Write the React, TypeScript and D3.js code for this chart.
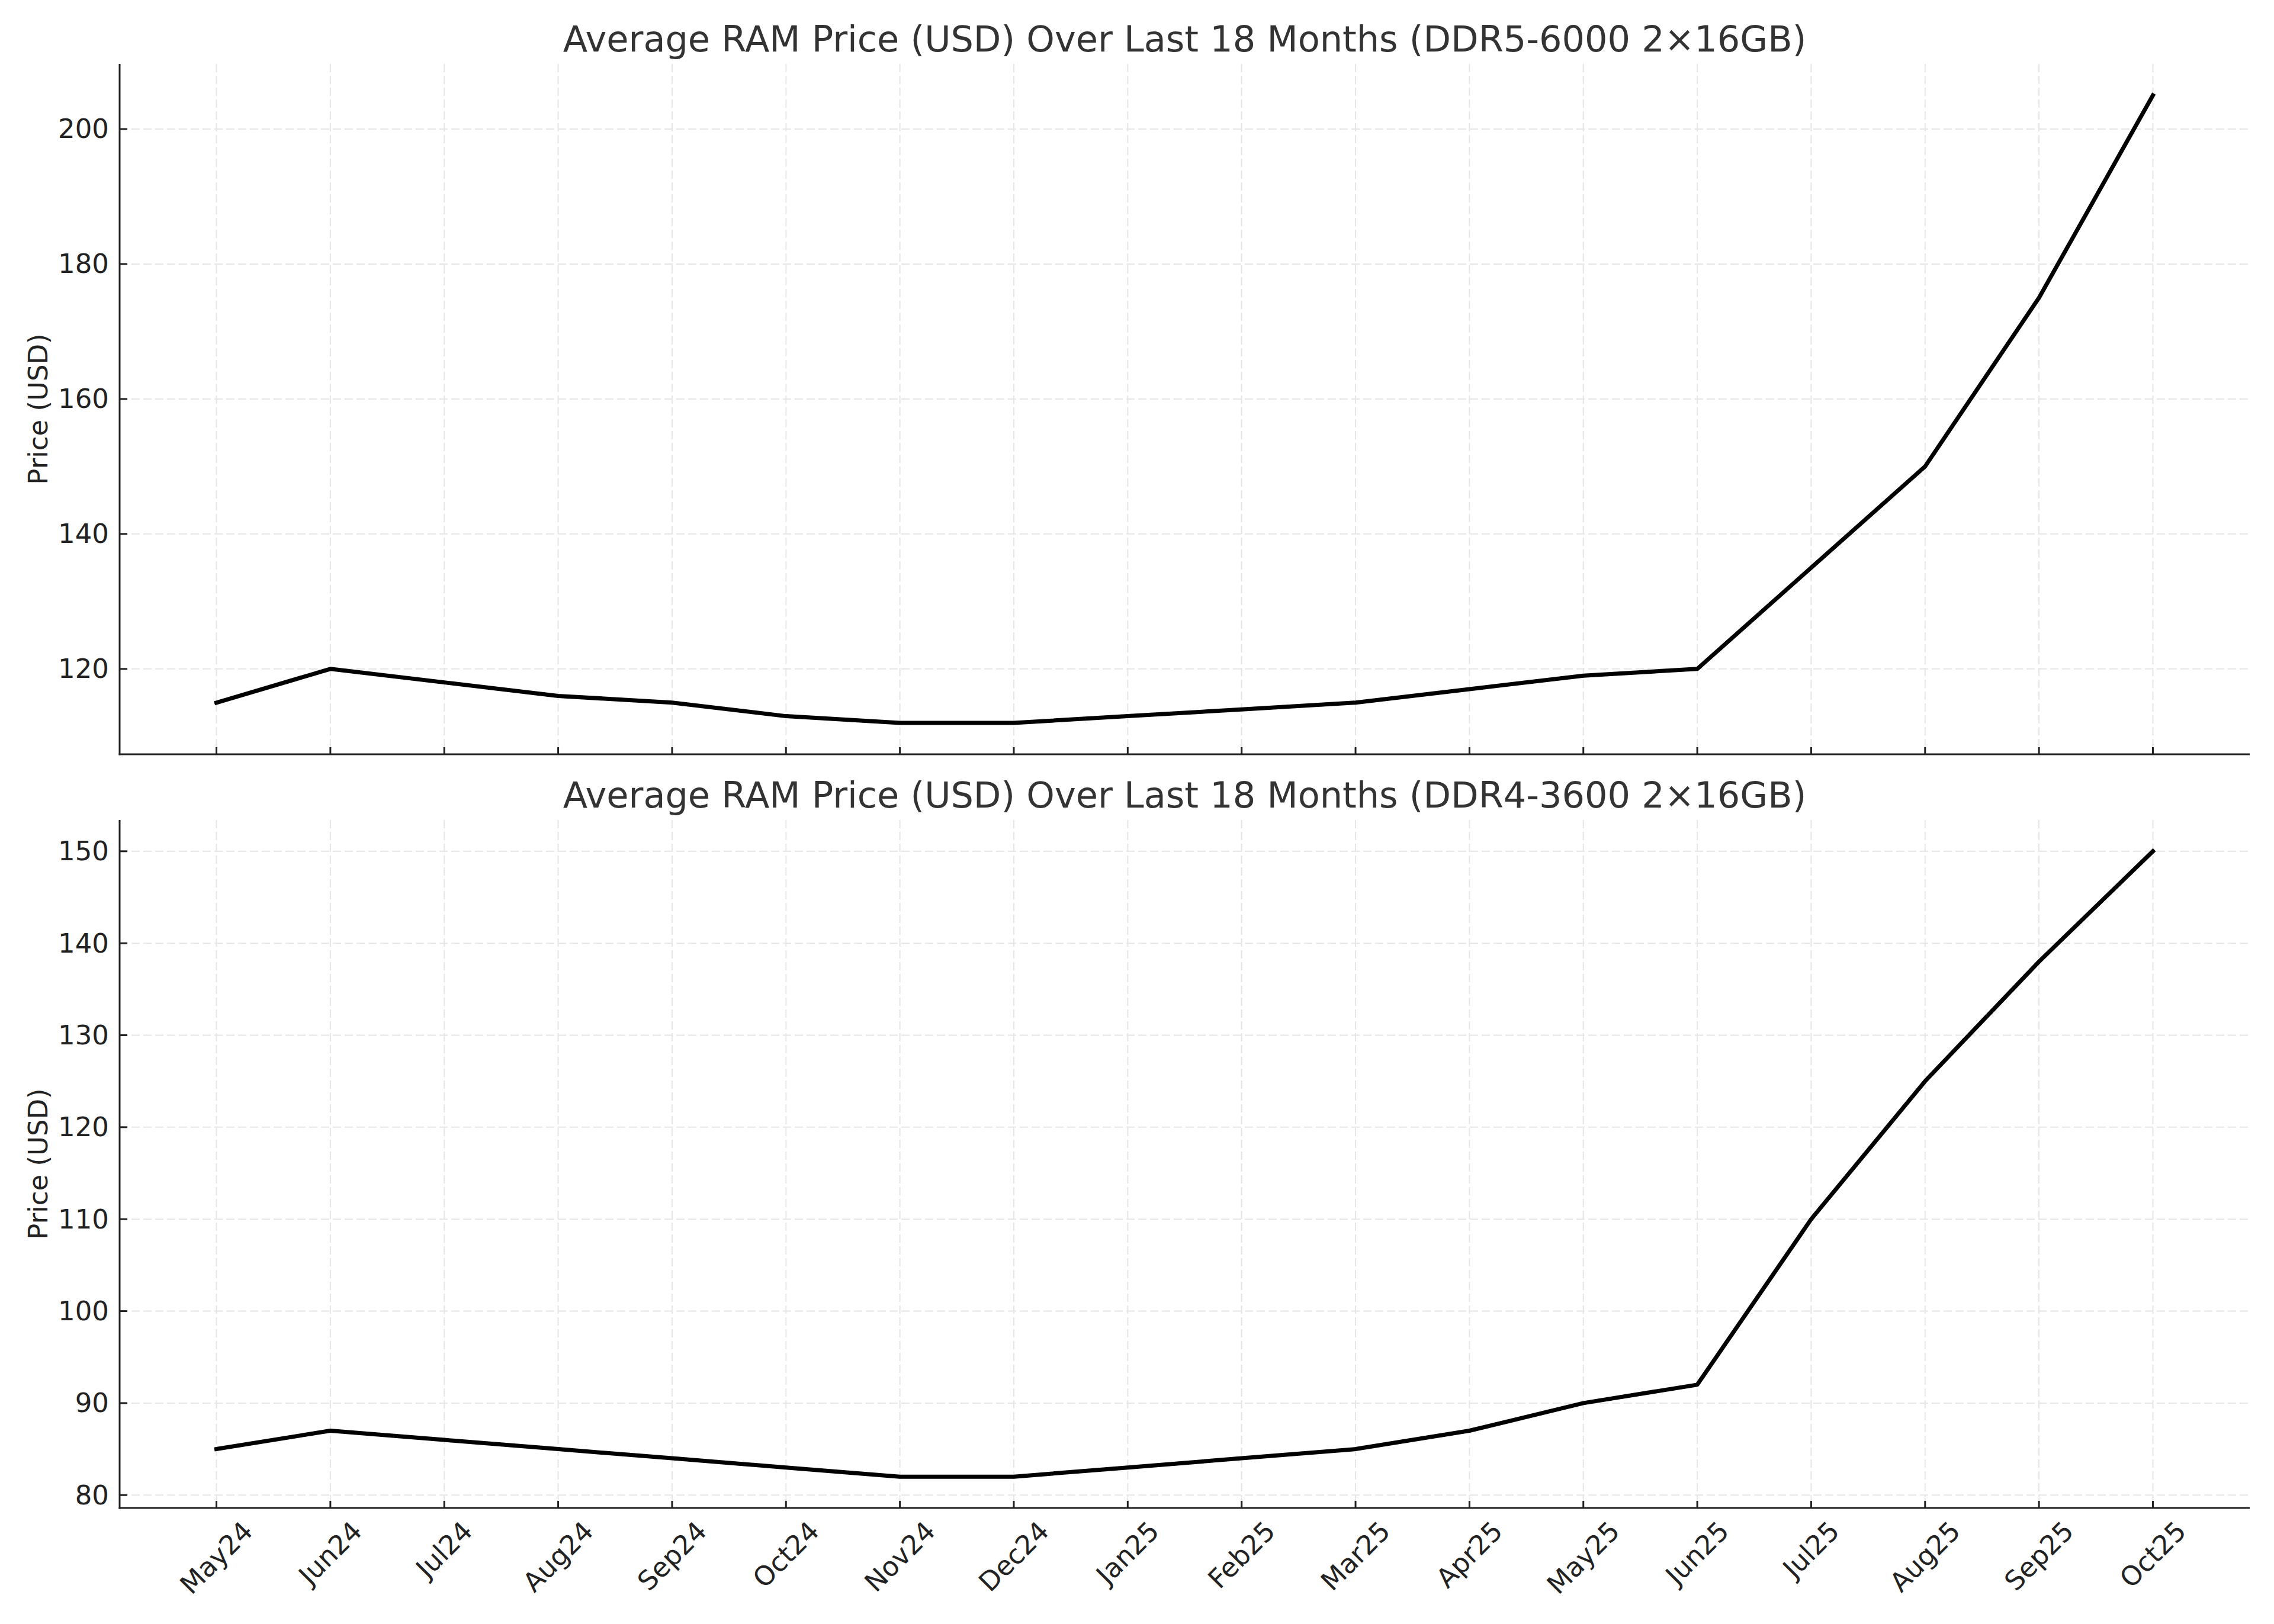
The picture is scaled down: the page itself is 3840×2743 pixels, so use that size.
import { useEffect, useRef } from "react";
import * as d3 from "d3";

// month labels along the shared x axis
const months = [
  "May24", "Jun24", "Jul24", "Aug24", "Sep24", "Oct24", "Nov24", "Dec24", "Jan25",
  "Feb25", "Mar25", "Apr25", "May25", "Jun25", "Jul25", "Aug25", "Sep25", "Oct25",
];

// average price, USD
const ddr5Prices = [115, 120, 118, 116, 115, 113, 112, 112, 113, 114, 115, 117, 119, 120, 135, 150, 175, 205];
const ddr4Prices = [85, 87, 86, 85, 84, 83, 82, 82, 83, 84, 85, 87, 90, 92, 110, 125, 138, 150];

const ddr5Ticks = [120, 140, 160, 180, 200];
const ddr4Ticks = [80, 90, 100, 110, 120, 130, 140, 150];

const ddr5Title = "Average RAM Price (USD) Over Last 18 Months (DDR5-6000 2×16GB)";
const ddr4Title = "Average RAM Price (USD) Over Last 18 Months (DDR4-3600 2×16GB)";
const yLabel = "Price (USD)";

const WIDTH = 3840;
const HEIGHT = 2743;
const FONT = "DejaVu Sans, sans-serif";

export default function App() {
  const svgRef = useRef<SVGSVGElement>(null);

  useEffect(() => {
    document.body.style.margin = "0";
    if (!svgRef.current) return;
    const svg = d3.select(svgRef.current);
    svg.selectAll("*").remove();

    svg.append("rect").attr("width", WIDTH).attr("height", HEIGHT).attr("fill", "white");

    const left = 202;
    const right = 3799;

    // x: index positions with matplotlib-like 5% margins
    const n = months.length;
    const pad = (n - 1) * 0.05;
    const x = d3.scaleLinear().domain([-pad, n - 1 + pad]).range([left, right]);

    const panels = [
      { title: ddr5Title, values: ddr5Prices, ticks: ddr5Ticks, top: 108, bottom: 1274, labels: false },
      { title: ddr4Title, values: ddr4Prices, ticks: ddr4Ticks, top: 1385, bottom: 2547, labels: true },
    ];

    panels.forEach((p) => {
      const [lo, hi] = d3.extent(p.values) as [number, number];
      const m = (hi - lo) * 0.05;
      const y = d3.scaleLinear().domain([lo - m, hi + m]).range([p.bottom, p.top]);
      const g = svg.append("g");

      // ── grid ──
      months.forEach((_, i) => {
        g.append("line")
          .attr("x1", x(i)).attr("x2", x(i))
          .attr("y1", p.top).attr("y2", p.bottom)
          .attr("stroke", "#e6e6e6").attr("stroke-width", 2)
          .attr("stroke-dasharray", "14,6");
      });
      p.ticks.forEach((t) => {
        g.append("line")
          .attr("x1", left).attr("x2", right)
          .attr("y1", y(t)).attr("y2", y(t))
          .attr("stroke", "#e6e6e6").attr("stroke-width", 2)
          .attr("stroke-dasharray", "14,6");
      });

      // ── line ──
      const line = d3.line<number>().x((_, i) => x(i)).y((d) => y(d));
      g.append("path")
        .attr("d", line(p.values))
        .attr("fill", "none")
        .attr("stroke", "#000")
        .attr("stroke-width", 7)
        .attr("stroke-linejoin", "round")
        .attr("stroke-linecap", "square");

      // ── spines ──
      g.append("line")
        .attr("x1", left).attr("x2", left)
        .attr("y1", p.top).attr("y2", p.bottom + 1.5)
        .attr("stroke", "#222").attr("stroke-width", 3);
      g.append("line")
        .attr("x1", left - 1.5).attr("x2", right)
        .attr("y1", p.bottom).attr("y2", p.bottom)
        .attr("stroke", "#222").attr("stroke-width", 3);

      // ── y ticks (inward) + labels ──
      p.ticks.forEach((t) => {
        g.append("line")
          .attr("x1", left).attr("x2", left + 13)
          .attr("y1", y(t)).attr("y2", y(t))
          .attr("stroke", "#222").attr("stroke-width", 3);
        g.append("text")
          .attr("x", left - 18).attr("y", y(t))
          .attr("text-anchor", "end")
          .attr("dominant-baseline", "central")
          .attr("font-family", FONT)
          .attr("font-size", 45)
          .attr("fill", "#222")
          .text(t);
      });

      // ── x ticks (inward) ──
      months.forEach((mLabel, i) => {
        g.append("line")
          .attr("x1", x(i)).attr("x2", x(i))
          .attr("y1", p.bottom).attr("y2", p.bottom - 12)
          .attr("stroke", "#222").attr("stroke-width", 3);

        if (!p.labels) return;
        const txt = g.append("text")
          .attr("text-anchor", "middle")
          .attr("dominant-baseline", "central")
          .attr("font-family", FONT)
          .attr("font-size", 45)
          .attr("fill", "#222")
          .text(mLabel);
        const w = (txt.node() as SVGTextElement).getComputedTextLength();
        const h = (w + 48) / Math.SQRT2;
        txt.attr("transform", `translate(${x(i)},${p.bottom + 14 + h / 2}) rotate(-45)`);
      });

      // ── y axis title ──
      g.append("text")
        .attr("transform", `translate(64,${(p.top + p.bottom) / 2}) rotate(-90)`)
        .attr("text-anchor", "middle")
        .attr("dominant-baseline", "central")
        .attr("font-family", FONT)
        .attr("font-size", 45)
        .attr("fill", "#222")
        .text(yLabel);

      // ── panel title ──
      g.append("text")
        .attr("x", (left + right) / 2)
        .attr("y", p.top - 21)
        .attr("text-anchor", "middle")
        .attr("font-family", FONT)
        .attr("font-size", 60.5)
        .attr("fill", "#333")
        .text(p.title);
    });
  }, []);

  return <svg ref={svgRef} width={WIDTH} height={HEIGHT} style={{ display: "block" }} />;
}
